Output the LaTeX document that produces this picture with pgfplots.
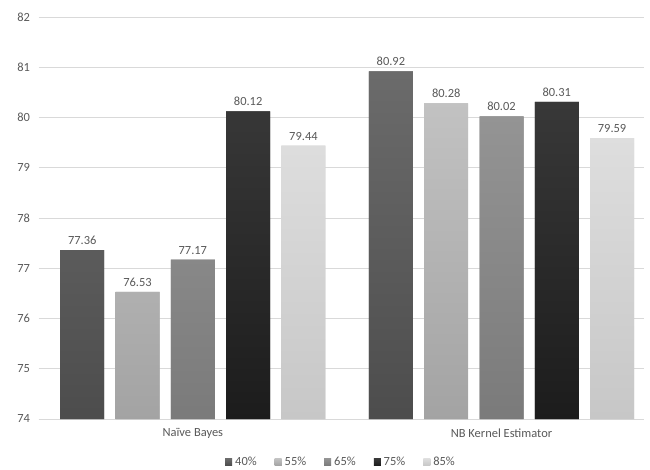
\documentclass[border=0pt]{standalone}
\usepackage{fontspec}
\setmainfont{Carlito}
\usepackage{pgfplots}
\pgfplotsset{compat=1.18}
\definecolor{txt}{HTML}{595959}
\definecolor{grd}{HTML}{D9D9D9}
\begin{document}
\begin{tikzpicture}
\begin{axis}[
  at={(0,0)}, anchor=south west,
  scale only axis, width=605bp, height=402bp,
  ybar=11.3bp, bar width=44bp,
  xmin=-0.5, xmax=1.46, ymin=74, ymax=82,
  xtick={0,1}, xticklabels={Naïve Bayes, NB Kernel Estimator},
  ytick={74,75,...,82},
  ymajorgrids, grid style={grd, line width=0.8pt},
  axis x line*=bottom, axis y line*=left,
  x axis line style={grd, line width=0.8pt, -},
  y axis line style={draw=none},
  major tick length=0pt,
  tick label style={txt, font=\fontsize{12.5}{14}\selectfont},
  /pgf/number format/assume math mode=true,
  yticklabel style={xshift=-5bp},
  xticklabel style={yshift=-6bp},
  nodes near coords,
  nodes near coords style={txt, font=\fontsize{12.5}{14}\selectfont, yshift=2bp, /pgf/number format/.cd, fixed, precision=2, fixed zerofill, assume math mode=true},
  legend style={at={(0.5,-0.107)}, anchor=center, draw=none, legend columns=-1, font=\fontsize{12.5}{14}\selectfont, text=txt, /tikz/every even column/.append style={column sep=16bp}, /tikz/every odd column/.append style={column sep=1bp}},
  legend image code/.code={\fill[#1] (0bp,-3.5bp) rectangle (7bp,3.5bp);},
]
\addplot[draw=none, top color=black!58, bottom color=black!70, fill=black!65] coordinates {(0,77.36) (1,80.92)};
\addplot[draw=none, top color=black!24, bottom color=black!36, fill=black!32] coordinates {(0,76.53) (1,80.28)};
\addplot[draw=none, top color=black!42, bottom color=black!52, fill=black!47] coordinates {(0,77.17) (1,80.02)};
\addplot[draw=none, top color=black!78, bottom color=black!89, fill=black!86] coordinates {(0,80.12) (1,80.31)};
\addplot[draw=none, top color=black!13, bottom color=black!22, fill=black!19] coordinates {(0,79.44) (1,79.59)};
\legend{40\%, 55\%, 65\%, 75\%, 85\%}
\end{axis}
\pgfresetboundingbox
\path (-38.5bp,-51bp) rectangle (611.5bp,419bp);
\end{tikzpicture}
\end{document}
